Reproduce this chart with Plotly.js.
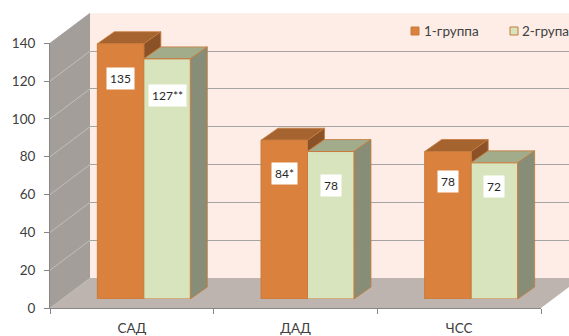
<!DOCTYPE html>
<html>
<head>
<meta charset="utf-8">
<script src="https://cdn.plot.ly/plotly-3.0.1.min.js"></script>
<style>
  html, body { margin: 0; padding: 0; background: #ffffff; }
  #chart { width: 569px; height: 336px; }
</style>
</head>
<body>
<div id="chart"></div>
<script>
// ---- data ----
const categories = ['САД', 'ДАД', 'ЧСС'];
const seriesNames = ['1-группа', '2-група'];
const group1 = [135, 84, 78];
const group2 = [127, 78, 72];
const labels1 = ['135', '84*', '78'];
const labels2 = ['127**', '78', '72'];
const yTicks = [0, 20, 40, 60, 80, 100, 120, 140];

// ---- geometry of the 3-D frame (pixels) ----
const W = 569, H = 336;
const frame = { left: 50, right: 541, top: 43.3, bottom: 308 };   // front plane, 0..140
const wall = { dx: 40, dy: 30 };          // depth of floor / side wall
const barPlane = 0.3;                      // bars stand this far into the depth
const barDepth = { dx: 17, dy: 12 };      // depth of each column
const barWidth = 0.284;                    // column width in category units
const yMax = 140;

const pxX = (frame.right - frame.left) / categories.length;
const pxY = (frame.bottom - frame.top) / yMax;

// ---- colours ----
const col = {
  front1: '#DA823D', top1: '#A5632F', side1: '#8B5228',
  front2: '#D7E4BD', top2: '#A2AB8A', side2: '#878D76',
  edge: '#C77B3C',
  backWall: '#FDEDE6', sideWall: '#A39E9A', floor: '#BDB4B0',
  grid: '#A3A3A3', sideGrid: '#C3BEBA', axis: '#868686', text: '#404040'
};
const font = 'Lato, "Open Sans", "DejaVu Sans", sans-serif';

// domains
const frontX = [frame.left / W, frame.right / W];
const frontY = [(H - frame.bottom) / H, (H - frame.top) / H];
const backX = [(frame.left + wall.dx) / W, 1];
const backY = [(H - frame.bottom + wall.dy) / H, (H - frame.top + wall.dy) / H];
const bx = wall.dx * barPlane, by = wall.dy * barPlane;
const barZeroPx = frame.bottom - by;
const barTopPx = 4;
const barYMax = (barZeroPx - barTopPx) / pxY;
const barX = [(frame.left + bx) / W, (frame.right + bx) / W];
const barY = [(H - barZeroPx) / H, (H - barTopPx) / H];

// ---- traces ----
const traces = [
  // front plane carries the category axis
  { type: 'scatter', x: categories, y: categories.map(() => null), xaxis: 'x', yaxis: 'y',
    mode: 'markers', hoverinfo: 'skip', showlegend: false },
  { type: 'scatter', x: [], y: [], xaxis: 'x2', yaxis: 'y2', hoverinfo: 'skip', showlegend: false },
  { type: 'bar', name: seriesNames[0], x: categories.map((_, i) => i), y: group1,
    width: barWidth, offset: -barWidth, xaxis: 'x3', yaxis: 'y3',
    marker: { color: col.front1, line: { color: col.edge, width: 1 } }, hoverinfo: 'y', showlegend: false },
  { type: 'bar', name: seriesNames[1], x: categories.map((_, i) => i), y: group2,
    width: barWidth, offset: 0, xaxis: 'x3', yaxis: 'y3',
    marker: { color: col.front2, line: { color: col.edge, width: 1 } }, hoverinfo: 'y', showlegend: false }
];

// ---- walls, floor, grid ----
const dxD = wall.dx / (frame.right - frame.left);
const dyD = wall.dy / (frame.bottom - frame.top);
const shapes = [];
shapes.push({ type: 'path', xref: 'x domain', yref: 'y domain', layer: 'below',
  path: `M0,0 L1,0 L${1 + dxD},${dyD} L${dxD},${dyD} Z`,
  fillcolor: col.floor, line: { width: 0 } });
shapes.push({ type: 'path', xref: 'x domain', yref: 'y domain', layer: 'below',
  path: `M0,0 L0,1 L${dxD},${1 + dyD} L${dxD},${dyD} Z`,
  fillcolor: col.sideWall, line: { width: 0 } });
shapes.push({ type: 'rect', xref: 'x2 domain', yref: 'y2 domain', layer: 'below',
  x0: 0, x1: 1, y0: 0, y1: 1, fillcolor: col.backWall, line: { width: 0 } });
shapes.push({ type: 'line', xref: 'x domain', yref: 'y domain', layer: 'below',
  x0: 0, y0: 1, x1: dxD, y1: 1 + dyD, line: { color: col.grid, width: 1 } });
// diagonal grid on the side wall
yTicks.filter(v => v > 0 && v < yMax).forEach(v => {
  shapes.push({ type: 'line', xref: 'x', yref: 'y', layer: 'below',
    xsizemode: 'pixel', ysizemode: 'pixel', xanchor: -0.5, yanchor: v,
    x0: 0, y0: 0, x1: wall.dx, y1: wall.dy, line: { color: col.sideGrid, width: 1 } });
});

// ---- column tops and sides ----
const ddx = barDepth.dx / pxX, ddy = barDepth.dy / pxY;
categories.forEach((_, i) => {
  const v1 = group1[i], v2 = group2[i];
  // series 1
  let xL = i - barWidth, xR = i;
  shapes.push({ type: 'path', xref: 'x3', yref: 'y3', layer: 'below',
    path: `M${xL},${v1} L${xR},${v1} L${xR + ddx},${v1 + ddy} L${xL + ddx},${v1 + ddy} Z`,
    fillcolor: col.top1, line: { color: col.edge, width: 0.8 } });
  if (v1 > v2) {
    shapes.push({ type: 'path', xref: 'x3', yref: 'y3', layer: 'below',
      path: `M${xR},${v2} L${xR},${v1} L${xR + ddx},${v1 + ddy} L${xR + ddx},${v2 + ddy} Z`,
      fillcolor: col.side1, line: { color: col.edge, width: 0.8 } });
  }
  // series 2
  xL = i; xR = i + barWidth;
  shapes.push({ type: 'path', xref: 'x3', yref: 'y3', layer: 'below',
    path: `M${xL},${v2} L${xR},${v2} L${xR + ddx},${v2 + ddy} L${xL + ddx},${v2 + ddy} Z`,
    fillcolor: col.top2, line: { color: col.edge, width: 0.8 } });
  shapes.push({ type: 'path', xref: 'x3', yref: 'y3', layer: 'below',
    path: `M${xR},0 L${xR},${v2} L${xR + ddx},${v2 + ddy} L${xR + ddx},${ddy} Z`,
    fillcolor: col.side2, line: { color: col.edge, width: 0.8 } });
});

// ---- value labels ----
const labelDrop1 = [35, 33, 30];
const labelDrop2 = [37, 34, 24];
const annotations = [];
categories.forEach((_, i) => {
  [[group1, labels1, labelDrop1, -barWidth / 2], [group2, labels2, labelDrop2, barWidth / 2]]
    .forEach(([vals, txt, drop, off]) => {
      annotations.push({ xref: 'x3', yref: 'y3', x: i + off, y: vals[i], yanchor: 'middle',
        yshift: -drop[i], text: txt[i], showarrow: false, bgcolor: '#ffffff', borderpad: 3,
        font: { family: font, size: 12, color: '#262626' } });
    });
});

// ---- legend ----
const legendItems = [
  { box: 411, text: 423, fill: col.front1 },
  { box: 510, text: 521, fill: col.front2 }
];
const legendY = 31;
legendItems.forEach((it, k) => {
  shapes.push({ type: 'rect', xref: 'paper', yref: 'paper', layer: 'above',
    x0: it.box / W, x1: (it.box + 8) / W, y0: 1 - (legendY + 4) / H, y1: 1 - (legendY - 4) / H,
    fillcolor: it.fill, line: { color: col.edge, width: 1 } });
  annotations.push({ xref: 'paper', yref: 'paper', x: (it.text - 1) / W, y: 1 - legendY / H,
    xanchor: 'left', yanchor: 'middle', text: seriesNames[k], showarrow: false,
    font: { family: font, size: 13.5, color: col.text } });
});

const layout = {
  width: W, height: H,
  margin: { l: 0, r: 0, t: 0, b: 0, pad: 0 },
  paper_bgcolor: '#ffffff', plot_bgcolor: 'rgba(0,0,0,0)',
  font: { family: font, color: col.text },
  showlegend: false,
  barmode: 'overlay',
  xaxis: { domain: frontX, type: 'category', range: [-0.5, 2.5], tickson: 'boundaries',
    ticks: 'outside', ticklen: 5, tickcolor: col.axis, showline: true, linecolor: col.axis,
    showgrid: false, zeroline: false, fixedrange: true, ticklabelstandoff: 8,
    tickfont: { family: font, size: 13.5, color: col.text }, anchor: 'y' },
  yaxis: { domain: frontY, range: [0, yMax], tickvals: yTicks, ticks: 'outside', ticklen: 5,
    tickcolor: col.axis, showline: true, linecolor: col.axis, showgrid: false, zeroline: false,
    fixedrange: true, ticklabelstandoff: 6,
    tickfont: { family: font, size: 13.5, color: col.text }, anchor: 'x' },
  xaxis2: { domain: backX, range: [-0.5, -0.5 + (W - frame.left - wall.dx) / pxX], anchor: 'y2',
    showgrid: false, zeroline: false, showticklabels: false, ticks: '', showline: false, fixedrange: true },
  yaxis2: { domain: backY, range: [0, yMax], anchor: 'x2', tickvals: yTicks.filter(v => v > 0),
    showgrid: true, gridcolor: col.grid, gridwidth: 1, zeroline: false, showticklabels: false,
    ticks: '', showline: false, fixedrange: true },
  xaxis3: { domain: barX, range: [-0.5, 2.5], anchor: 'y3', visible: false, fixedrange: true },
  yaxis3: { domain: barY, range: [0, barYMax], anchor: 'x3', visible: false, fixedrange: true },
  shapes: shapes,
  annotations: annotations
};

Plotly.newPlot('chart', traces, layout, { displayModeBar: false, staticPlot: true });
</script>
</body>
</html>
